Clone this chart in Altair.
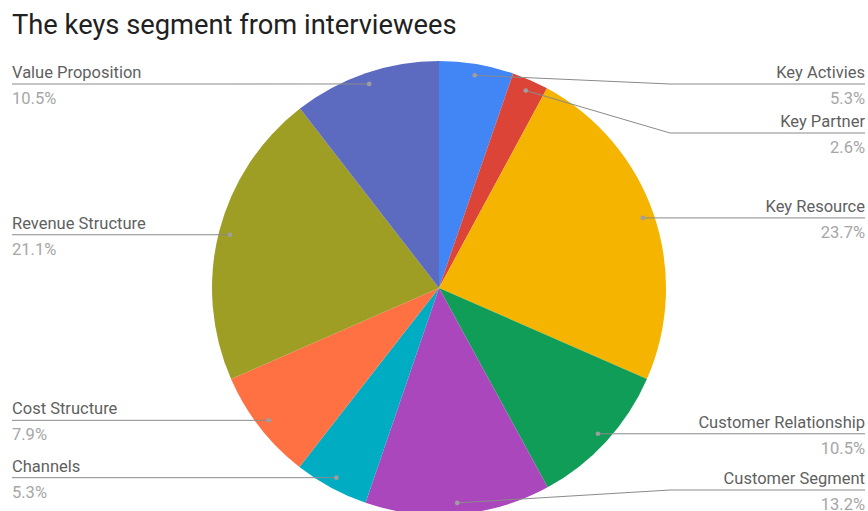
import numpy as np
import pandas as pd
import altair as alt

# ---- data ----
labels = ["Key Activies", "Key Partner", "Key Resource", "Customer Relationship",
          "Customer Segment", "Channels", "Cost Structure", "Revenue Structure",
          "Value Proposition"]
values = [5.3, 2.6, 23.7, 10.5, 13.2, 5.3, 7.9, 21.1, 10.5]
colors = ["#4285F4", "#DB4437", "#F4B400", "#0F9D58", "#AB47BC",
          "#00ACC1", "#FF7043", "#9E9D24", "#5C6BC0"]
title_text = "The keys segment from interviewees"

# ---- layout ----
W, H = 868, 511
CX, CY, R = 439, 288, 227
DOT_FRAC = 0.95
Y_MIN, Y_MAX, GAP = 84, 490, 49
BEND_R, BEND_L = 670, 208
EDGE_L, EDGE_R = 12, 865
FONT = "Roboto"

vals = np.array(values, dtype=float)
total = vals.sum()
cum = np.cumsum(vals)
mid = (cum - vals / 2) / total * 2 * np.pi
dot_x = CX + DOT_FRAC * R * np.sin(mid)
dot_y = CY - DOT_FRAC * R * np.cos(mid)
side = np.where(np.sin(mid) > 0, "right", "left")

line_y = np.zeros(len(labels))
for s in ["left", "right"]:
    idxs = [i for i in np.argsort(dot_y) if side[i] == s]
    ys = [min(max(dot_y[i], Y_MIN), Y_MAX) for i in idxs]
    for k in range(1, len(ys)):
        ys[k] = max(ys[k], ys[k - 1] + GAP)
    for k in range(len(ys) - 2, -1, -1):
        ys[k] = min(ys[k], ys[k + 1] - GAP)
    for i, y in zip(idxs, ys):
        line_y[i] = y

df = pd.DataFrame({
    "label": labels,
    "value": values,
    "idx": range(len(labels)),
    "pct": [f"{v}%" for v in values],
    "dx": dot_x, "dy": dot_y,
    "side": side,
    "ly": line_y,
    "bx": np.where(side == "right", BEND_R, BEND_L),
    "ex": np.where(side == "right", EDGE_R, EDGE_L),
})
df["name_y"] = df["ly"] - 6
df["pct_y"] = df["ly"] + 20

px = lambda f: alt.X(f, type="quantitative", scale=None, axis=None)
py = lambda f: alt.Y(f, type="quantitative", scale=None, axis=None)

pie = alt.Chart(df).mark_arc(outerRadius=R).encode(
    theta=alt.Theta("value:Q", stack=True),
    color=alt.Color("label:N", scale=alt.Scale(domain=labels, range=colors), legend=None),
    order=alt.Order("idx:Q", sort="ascending"),
    x=alt.value(CX), y=alt.value(CY),
)

seg1 = alt.Chart(df).mark_rule(color="#8a8a8a", strokeWidth=1).encode(
    x=px("dx"), y=py("dy"), x2="bx:Q", y2="ly:Q")
seg2 = alt.Chart(df).mark_rule(color="#8a8a8a", strokeWidth=1).encode(
    x=px("bx"), y=py("ly"), x2="ex:Q", y2="ly:Q")
dots = alt.Chart(df).mark_circle(color="#9e9e9e", opacity=1, size=22).encode(
    x=px("dx"), y=py("dy"))

def text_layers(s, align):
    base = alt.Chart(df).transform_filter(alt.datum.side == s)
    name = base.mark_text(align=align, baseline="alphabetic", font=FONT, fontSize=16.5,
                          color="#5f5f5f").encode(x=px("ex"), y=py("name_y"), text="label:N")
    pct = base.mark_text(align=align, baseline="alphabetic", font=FONT, fontSize=16.5,
                         color="#a6a6a6").encode(x=px("ex"), y=py("pct_y"), text="pct:N")
    return name + pct

title = alt.Chart(pd.DataFrame({"t": [title_text]})).mark_text(
    align="left", baseline="alphabetic", font=FONT, fontSize=27.3, color="#212121"
).encode(x=alt.value(12), y=alt.value(34), text="t:N")

chart = alt.layer(pie, seg1, seg2, dots, text_layers("left", "left"),
                  text_layers("right", "right"), title).properties(
    width=W, height=H, padding=0, autosize=alt.AutoSizeParams(type="none"),
    background="white"
).configure_view(stroke=None)

chart.save("out.html", embed_options={"renderer": "svg", "actions": False})
